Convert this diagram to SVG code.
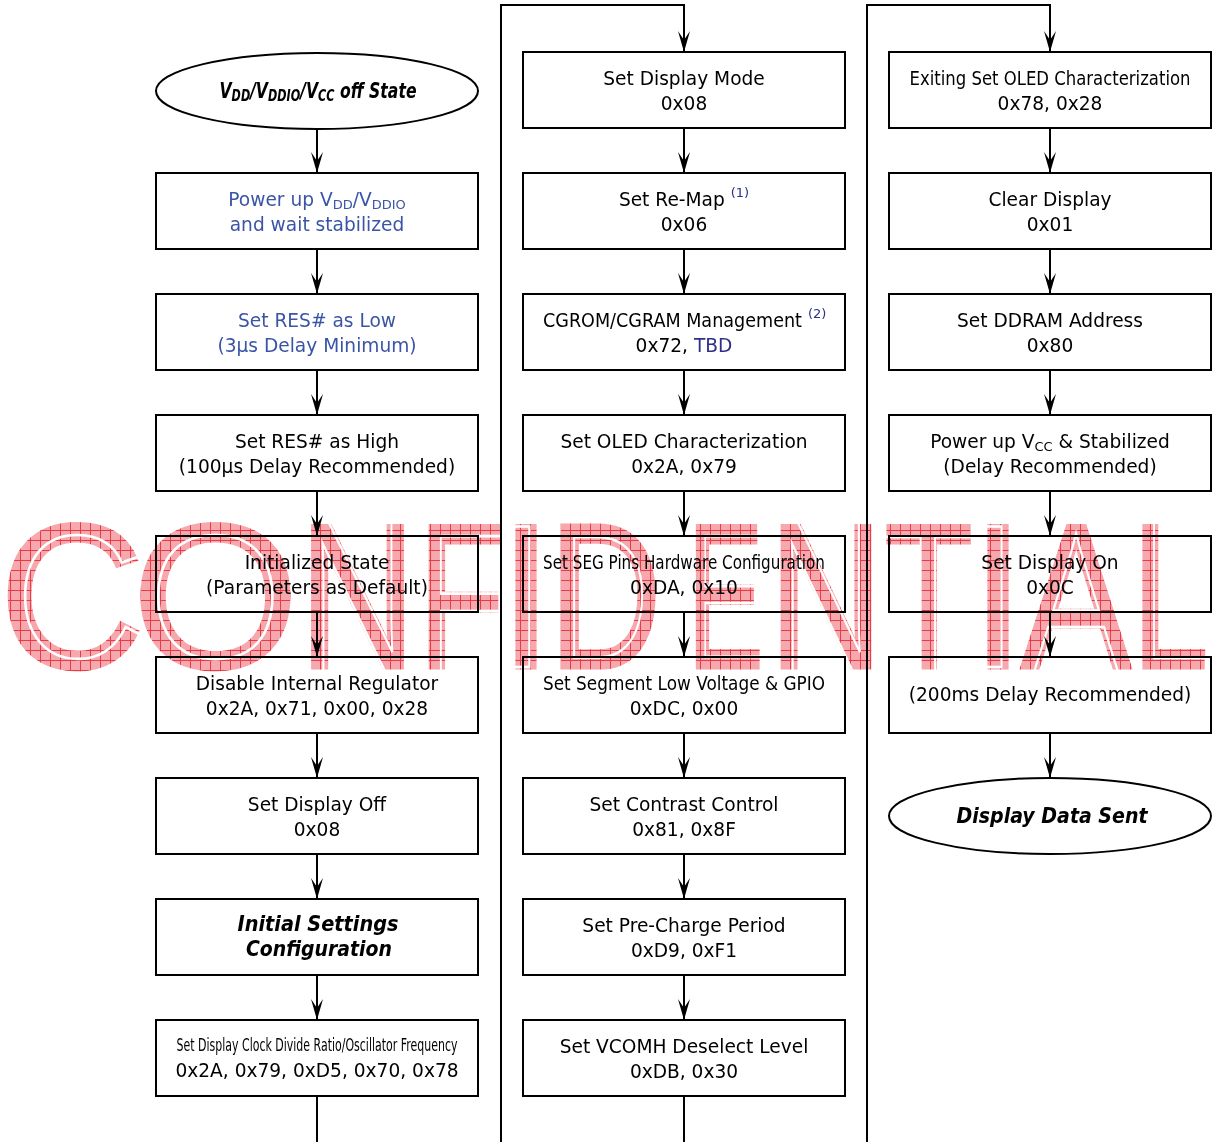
<svg xmlns="http://www.w3.org/2000/svg" xmlns:xlink="http://www.w3.org/1999/xlink" width="1213" height="1142" viewBox="0 0 1213 1142">
<style>
.box{fill:#fff;stroke:#000;stroke-width:2}
.t{font-family:"DejaVu Sans",Verdana,sans-serif;font-size:18.6px;text-anchor:middle;fill:#000}
.blue{fill:#3a55a6}
.navy{fill:#2e2f8a}
.bi{font-weight:bold;font-style:italic}
.conn{fill:none;stroke:#000;stroke-width:2}
.wm{font-family:"Liberation Sans",Arial,sans-serif;font-size:205px}
.wl{fill:none;stroke:#fff;stroke-width:2.4}
</style>
<defs>
<marker id="arr" markerUnits="userSpaceOnUse" viewBox="-23 -7 24 14" refX="0" refY="0" markerWidth="24" markerHeight="14" orient="auto">
<path d="M0,0 L-21,-6 L-12,0 L-21,6 Z" fill="#000"/>
</marker>
<pattern id="hatch" patternUnits="userSpaceOnUse" width="10" height="10">
<rect width="10" height="10" fill="#f5a9ae"/>
<path d="M0,0.5 H10 M0.5,0 V10" stroke="#ea3a45" stroke-width="1"/>
</pattern>
<text id="wC" class="wm" x="0" y="667" textLength="144" lengthAdjust="spacingAndGlyphs">C</text>
<text id="wO" class="wm" x="133" y="667" textLength="165" lengthAdjust="spacingAndGlyphs">O</text>
<text id="wN" class="wm" x="300" y="667" textLength="115" lengthAdjust="spacingAndGlyphs">N</text>
<text id="wF" class="wm" x="419" y="667" textLength="85" lengthAdjust="spacingAndGlyphs">F</text>
<text id="wI" class="wm" x="501" y="667" textLength="50" lengthAdjust="spacingAndGlyphs">I</text>
<text id="wD" class="wm" x="550" y="667" textLength="111" lengthAdjust="spacingAndGlyphs">D</text>
<text id="wE" class="wm" x="688" y="667" textLength="75" lengthAdjust="spacingAndGlyphs">E</text>
<text id="wN2" class="wm" x="770" y="667" textLength="112" lengthAdjust="spacingAndGlyphs">N</text>
<text id="wT" class="wm" x="885" y="667" textLength="87" lengthAdjust="spacingAndGlyphs">T</text>
<text id="wI2" class="wm" x="973" y="667" textLength="50" lengthAdjust="spacingAndGlyphs">I</text>
<text id="wA" class="wm" x="1022" y="667" textLength="108" lengthAdjust="spacingAndGlyphs">A</text>
<text id="wL" class="wm" x="1133" y="667" textLength="75" lengthAdjust="spacingAndGlyphs">L</text>
</defs>

<g id="connectors">
<path class="conn" d="M317,129 V173" marker-end="url(#arr)"/>
<path class="conn" d="M317,249 V294" marker-end="url(#arr)"/>
<path class="conn" d="M317,370 V415" marker-end="url(#arr)"/>
<path class="conn" d="M317,491 V536" marker-end="url(#arr)"/>
<path class="conn" d="M317,612 V657" marker-end="url(#arr)"/>
<path class="conn" d="M317,733 V778" marker-end="url(#arr)"/>
<path class="conn" d="M317,854 V899" marker-end="url(#arr)"/>
<path class="conn" d="M317,975 V1020" marker-end="url(#arr)"/>
<path class="conn" d="M317,1096 V1142"/>
<path class="conn" d="M501,1142 V5 H684 V52" marker-end="url(#arr)"/>
<path class="conn" d="M684,128 V173" marker-end="url(#arr)"/>
<path class="conn" d="M684,249 V294" marker-end="url(#arr)"/>
<path class="conn" d="M684,370 V415" marker-end="url(#arr)"/>
<path class="conn" d="M684,491 V536" marker-end="url(#arr)"/>
<path class="conn" d="M684,612 V657" marker-end="url(#arr)"/>
<path class="conn" d="M684,733 V778" marker-end="url(#arr)"/>
<path class="conn" d="M684,854 V899" marker-end="url(#arr)"/>
<path class="conn" d="M684,975 V1020" marker-end="url(#arr)"/>
<path class="conn" d="M684,1096 V1142"/>
<path class="conn" d="M867,1142 V5 H1050 V52" marker-end="url(#arr)"/>
<path class="conn" d="M1050,128 V173" marker-end="url(#arr)"/>
<path class="conn" d="M1050,249 V294" marker-end="url(#arr)"/>
<path class="conn" d="M1050,370 V415" marker-end="url(#arr)"/>
<path class="conn" d="M1050,491 V536" marker-end="url(#arr)"/>
<path class="conn" d="M1050,612 V657" marker-end="url(#arr)"/>
<path class="conn" d="M1050,733 V778" marker-end="url(#arr)"/>
</g>

<!-- Column 1 -->
<g id="off-state">
<ellipse class="box" cx="317" cy="91" rx="161" ry="38"/>
<text class="t bi" x="318" y="98" style="font-size:21px" textLength="197" lengthAdjust="spacingAndGlyphs">V<tspan style="font-size:15px" dy="3">DD</tspan><tspan dy="-3">/V</tspan><tspan style="font-size:15px" dy="3">DDIO</tspan><tspan dy="-3">/V</tspan><tspan style="font-size:15px" dy="3">CC</tspan><tspan dy="-3"> off State</tspan></text>
</g>
<g id="power-up-vdd">
<rect class="box" x="156" y="173" width="322" height="76"/>
<text class="t blue" x="317" y="206">Power up V<tspan style="font-size:13px" dy="3">DD</tspan><tspan dy="-3">/V</tspan><tspan style="font-size:13px" dy="3">DDIO</tspan></text>
<text class="t blue" x="317" y="231">and wait stabilized</text>
</g>
<g id="res-low">
<rect class="box" x="156" y="294" width="322" height="76"/>
<text class="t blue" x="317" y="327">Set RES# as Low</text>
<text class="t blue" x="317" y="352">(3µs Delay Minimum)</text>
</g>
<g id="res-high">
<rect class="box" x="156" y="415" width="322" height="76"/>
<text class="t" x="317" y="448">Set RES# as High</text>
<text class="t" x="317" y="473">(100µs Delay Recommended)</text>
</g>
<g id="initialized">
<rect class="box" x="156" y="536" width="322" height="76"/>
<text class="t" x="317" y="569">Initialized State</text>
<text class="t" x="317" y="594">(Parameters as Default)</text>
</g>
<g id="disable-regulator">
<rect class="box" x="156" y="657" width="322" height="76"/>
<text class="t" x="317" y="690">Disable Internal Regulator</text>
<text class="t" x="317" y="715">0x2A, 0x71, 0x00, 0x28</text>
</g>
<g id="display-off">
<rect class="box" x="156" y="778" width="322" height="76"/>
<text class="t" x="317" y="811">Set Display Off</text>
<text class="t" x="317" y="836">0x08</text>
</g>
<g id="initial-settings">
<rect class="box" x="156" y="899" width="322" height="76"/>
<text class="t bi" x="318" y="931" style="font-size:21px" textLength="161" lengthAdjust="spacingAndGlyphs">Initial Settings</text>
<text class="t bi" x="319" y="956" style="font-size:21px" textLength="146" lengthAdjust="spacingAndGlyphs">Configuration</text>
</g>
<g id="clock-divide">
<rect class="box" x="156" y="1020" width="322" height="76"/>
<text class="t" x="317" y="1051" style="font-size:17.5px" textLength="281" lengthAdjust="spacingAndGlyphs">Set Display Clock Divide Ratio/Oscillator Frequency</text>
<text class="t" x="317" y="1077">0x2A, 0x79, 0xD5, 0x70, 0x78</text>
</g>

<!-- Column 2 -->
<g id="display-mode">
<rect class="box" x="523" y="52" width="322" height="76"/>
<text class="t" x="684" y="85">Set Display Mode</text>
<text class="t" x="684" y="110">0x08</text>
</g>
<g id="re-map">
<rect class="box" x="523" y="173" width="322" height="76"/>
<text class="t" x="684" y="206">Set Re-Map <tspan class="navy" style="font-size:13px" dy="-9">(1)</tspan></text>
<text class="t" x="684" y="231">0x06</text>
</g>
<g id="cgrom">
<rect class="box" x="523" y="294" width="322" height="76"/>
<text class="t" x="543" y="327" style="text-anchor:start" textLength="259" lengthAdjust="spacingAndGlyphs">CGROM/CGRAM Management</text>
<text class="t navy" x="808" y="318" style="font-size:13px;text-anchor:start">(2)</text>
<text class="t" x="684" y="352">0x72, <tspan class="navy">TBD</tspan></text>
</g>
<g id="oled-char">
<rect class="box" x="523" y="415" width="322" height="76"/>
<text class="t" x="684" y="448">Set OLED Characterization</text>
<text class="t" x="684" y="473">0x2A, 0x79</text>
</g>
<g id="seg-pins">
<rect class="box" x="523" y="536" width="322" height="76"/>
<text class="t" x="684" y="569" textLength="282" lengthAdjust="spacingAndGlyphs">Set SEG Pins Hardware Configuration</text>
<text class="t" x="684" y="594">0xDA, 0x10</text>
</g>
<g id="seg-low-voltage">
<rect class="box" x="523" y="657" width="322" height="76"/>
<text class="t" x="684" y="690" textLength="282" lengthAdjust="spacingAndGlyphs">Set Segment Low Voltage &amp; GPIO</text>
<text class="t" x="684" y="715">0xDC, 0x00</text>
</g>
<g id="contrast">
<rect class="box" x="523" y="778" width="322" height="76"/>
<text class="t" x="684" y="811">Set Contrast Control</text>
<text class="t" x="684" y="836">0x81, 0x8F</text>
</g>
<g id="pre-charge">
<rect class="box" x="523" y="899" width="322" height="76"/>
<text class="t" x="684" y="932">Set Pre-Charge Period</text>
<text class="t" x="684" y="957">0xD9, 0xF1</text>
</g>
<g id="vcomh">
<rect class="box" x="523" y="1020" width="322" height="76"/>
<text class="t" x="684" y="1053">Set VCOMH Deselect Level</text>
<text class="t" x="684" y="1078">0xDB, 0x30</text>
</g>

<!-- Column 3 -->
<g id="exit-oled-char">
<rect class="box" x="889" y="52" width="322" height="76"/>
<text class="t" x="1050" y="85" textLength="281" lengthAdjust="spacingAndGlyphs">Exiting Set OLED Characterization</text>
<text class="t" x="1050" y="110">0x78, 0x28</text>
</g>
<g id="clear-display">
<rect class="box" x="889" y="173" width="322" height="76"/>
<text class="t" x="1050" y="206">Clear Display</text>
<text class="t" x="1050" y="231">0x01</text>
</g>
<g id="ddram">
<rect class="box" x="889" y="294" width="322" height="76"/>
<text class="t" x="1050" y="327">Set DDRAM Address</text>
<text class="t" x="1050" y="352">0x80</text>
</g>
<g id="power-up-vcc">
<rect class="box" x="889" y="415" width="322" height="76"/>
<text class="t" x="1050" y="448">Power up V<tspan style="font-size:13px" dy="3">CC</tspan><tspan dy="-3"> &amp; Stabilized</tspan></text>
<text class="t" x="1050" y="473">(Delay Recommended)</text>
</g>
<g id="display-on">
<rect class="box" x="889" y="536" width="322" height="76"/>
<text class="t" x="1050" y="569">Set Display On</text>
<text class="t" x="1050" y="594">0x0C</text>
</g>
<g id="delay-200ms">
<rect class="box" x="889" y="657" width="322" height="76"/>
<text class="t" x="1050" y="701">(200ms Delay Recommended)</text>
</g>
<g id="data-sent">
<ellipse class="box" cx="1050" cy="816" rx="161" ry="38"/>
<text class="t bi" x="1052" y="823" style="font-size:21px" textLength="191" lengthAdjust="spacingAndGlyphs">Display Data Sent</text>
</g>

<!-- Watermark -->
<g id="watermark" style="mix-blend-mode:multiply">
<g fill="url(#hatch)" stroke="url(#hatch)" stroke-width="5" stroke-linejoin="miter">
<use href="#wC"/><use href="#wO"/><use href="#wN"/><use href="#wF"/><use href="#wI"/><use href="#wD"/>
<use href="#wE"/><use href="#wN2"/><use href="#wT"/><use href="#wI2"/><use href="#wA"/><use href="#wL"/>
</g>
<g class="wl">
<use href="#wC" transform="translate(72,593) scale(1.09) translate(-72,-593)"/>
<use href="#wO" transform="translate(216,593) scale(1.09) translate(-216,-593)"/>
<use href="#wN" transform="translate(359,593) scale(1.09) translate(-359,-593)"/>
<use href="#wF" transform="translate(470,600) scale(1.1) translate(-470,-600)"/>
<use href="#wI" transform="translate(-5,0)"/>
<use href="#wD" transform="translate(607,593) scale(1.09) translate(-607,-593)"/>
<use href="#wE" transform="translate(732,593) scale(1.1) translate(-732,-593)"/>
<use href="#wN2" transform="translate(827,593) scale(1.09) translate(-827,-593)"/>
<use href="#wT" transform="translate(934,600) scale(1.09) translate(-934,-600)"/>
<use href="#wI2" transform="translate(-5,0)"/>
<use href="#wA" transform="translate(1076,612) scale(1.1) translate(-1076,-612)"/>
<use href="#wL" transform="translate(1182,588) scale(1.1) translate(-1182,-588)"/>
</g>
</g>
</svg>
